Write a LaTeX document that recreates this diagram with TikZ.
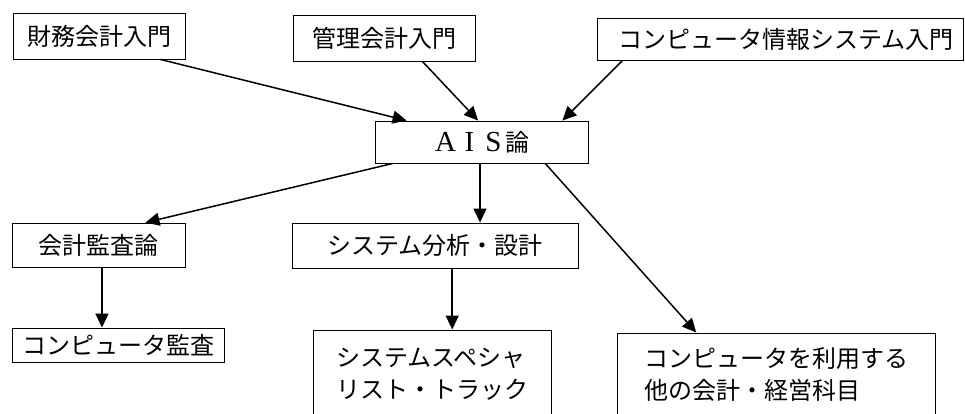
\documentclass[tikz,border=0pt]{standalone}
\usepackage{fontspec}
\setmainfont{Noto Sans CJK JP}
\newfontfamily\latinserif{Liberation Serif}
\usetikzlibrary{arrows.meta,calc}
\newcommand{\fwl}[1]{\makebox[24pt]{\fontsize{29}{32}\latinserif #1}}
\begin{document}
\begin{tikzpicture}[x=1pt,y=-1pt,
  box/.style={draw,line width=0.9pt,rectangle,inner sep=0pt,font=\fontsize{24}{32}\selectfont},
  conn/.style={line width=1.5pt,-{Triangle[length=14pt,width=13pt]}}]
\useasboundingbox (0,0) rectangle (965,414);
\clip (0,0) rectangle (965,414);
\fill[white] (0,0) rectangle (965,414);
% top row
\node[box,minimum width=172pt,minimum height=46pt] (zaimu) at (99,36) {財務会計入門};
\node[box,minimum width=182pt,minimum height=46pt] (kanri) at (384,38) {管理会計入門};
\node[box,minimum width=366pt,minimum height=42pt] (cis) at (780,39) {\hspace*{12pt}コンピュータ情報システム入門};
% centre
\node[box,minimum width=213pt,minimum height=42pt] (ais) at (481.5,142) {\fwl{A}\fwl{I}\fwl{S}論};
% middle row
\node[box,minimum width=173pt,minimum height=44pt] (kansa) at (98.5,245) {会計監査論};
\node[box,minimum width=286pt,minimum height=45pt] (sysa) at (435,245.5) {システム分析・設計};
% bottom row
\node[box,minimum width=212pt,minimum height=34pt] (compa) at (118,345) {コンピュータ監査};
\node[box,minimum width=238pt,minimum height=88pt,align=left] (spec) at (432,374) {システムスペシャ\\リスト・トラック};
\node[box,minimum width=318pt,minimum height=83pt,align=left] (other) at (776,374.5) {コンピュータを利用する\\他の会計・経営科目};
% connectors
\coordinate (a1) at ($(zaimu.south west)!0.855!(zaimu.south east)$);
\coordinate (b1) at ($(ais.north west)!0.15!(ais.north east)$);
\draw[conn] (a1) -- (b1);
\coordinate (a2) at ($(kanri.south west)!0.71!(kanri.south east)$);
\coordinate (b2) at ($(ais.north west)!0.484!(ais.north east)$);
\draw[conn] (a2) -- (b2);
\coordinate (a3) at ($(cis.south west)!0.071!(cis.south east)$);
\coordinate (b3) at ($(ais.north west)!0.878!(ais.north east)$);
\draw[conn] (a3) -- (b3);
\coordinate (a4) at ($(ais.south west)!0.085!(ais.south east)$);
\coordinate (b4) at ($(kansa.north west)!0.77!(kansa.north east)$);
\draw[conn] (a4) -- (b4);
\coordinate (a5) at ($(ais.south west)!0.493!(ais.south east)$);
\draw[conn] (a5) -- (a5 |- sysa.north);
\coordinate (a6) at ($(ais.south west)!0.798!(ais.south east)$);
\coordinate (b6) at ($(other.north west)!0.25!(other.north east)$);
\draw[conn] (a6) -- (b6);
\coordinate (a7) at ($(kansa.south west)!0.52!(kansa.south east)$);
\draw[conn] (a7) -- (a7 |- compa.north);
\coordinate (a8) at ($(sysa.south west)!0.56!(sysa.south east)$);
\draw[conn] (a8) -- (a8 |- spec.north);
\end{tikzpicture}
\end{document}
